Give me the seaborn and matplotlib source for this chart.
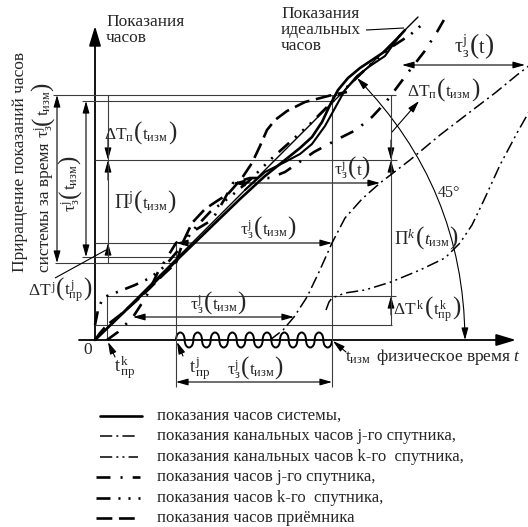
import matplotlib
matplotlib.use("Agg")
import matplotlib.pyplot as plt
from matplotlib.patches import Arc, FancyArrowPatch
import seaborn as sns

sns.set_style("white")
plt.rcParams["font.family"] = ["Liberation Serif", "DejaVu Serif"]
plt.rcParams["mathtext.fontset"] = "custom"
plt.rcParams["mathtext.rm"] = "Liberation Serif"
plt.rcParams["mathtext.it"] = "Liberation Serif:italic"
plt.rcParams["mathtext.bf"] = "Liberation Serif:bold"

# ---- key instants of physical time t and clock readings T (chart units) ----
t_pr_k, t_pr_j, t_izm, t_right = 12, 81, 237, 296
T_rcv_izm, T_sys_izm, T_pj_top = 245, 239, 180
T_sat_j_prj, T_sys_prj, T_rcv_prj = 97, 83, 77
T_k_top, T_k_base = 44, 15

# ---- clock readings versus physical time ----
ideal_t = [0, 323]
ideal_T = [0, 323]

system_t = [0, 25, 55, 85, 115, 145, 170, 190, 205, 217, 227, 235, 243, 253, 265, 277, 289, 301, 310]
system_T = [0, 24, 53, 83, 112, 141, 164, 180, 192, 203, 218, 235, 250, 262, 272, 280, 288, 300, 310]

system2_t = [150, 170, 190, 205, 217, 230, 240, 250, 262, 275, 290, 305]
system2_T = [150, 168, 178, 186, 196, 214, 232, 250, 264, 274, 284, 305]

receiver_t = [0, 5, 12, 25, 40, 55, 68, 81, 88, 97, 110, 122, 133, 147, 157, 165, 172, 180, 192, 210, 237, 252]
receiver_T = [0, 7, 15, 25, 38, 52, 65, 77, 98, 117, 131, 139, 146, 162, 177, 194, 210, 220, 229, 238, 245, 248]

sat_j_t = [12, 23, 38, 51, 63, 73, 81, 97, 117, 129, 138, 155, 175, 190, 219, 245, 261, 277, 291, 303, 315, 329, 342, 350]
sat_j_T = [0, 8, 23, 43, 68, 84, 97, 108, 120, 140, 157, 162, 162, 168, 188, 202, 210, 223, 238, 254, 270, 288, 308, 322]

sat_k_t = [0, 3, 7, 12, 25, 40, 55, 70, 85, 100, 115, 135, 155, 175, 195, 215, 235, 255, 275, 295, 315, 330]
sat_k_T = [15, 30, 40, 44, 49, 55, 62, 74, 92, 112, 128, 143, 160, 180, 198, 216, 236, 256, 275, 292, 305, 318]

chan_j_t = [175, 188, 199, 212, 224, 237, 250, 267, 285, 315, 345, 375, 400, 422, 435]
chan_j_T = [0, 10, 23, 43, 68, 97, 122, 141, 157, 180, 205, 228, 247, 265, 275]

chan_k_t = [231, 234, 237, 250, 270, 296, 325, 350, 365, 377, 389, 405, 422, 435]
chan_k_T = [30, 38, 42, 47, 50, 58, 70, 82, 97, 115, 140, 175, 207, 230]

legend_labels = [
    "показания часов системы,",
    "показания канальных часов j-го спутника,",
    "показания канальных часов k-го  спутника,",
    "показания часов j-го спутника,",
    "показания часов k-го  спутника,",
    "показания часов приёмника",
]

# ---- figure: one unit of t or T equals one pixel ----
fig = plt.figure(figsize=(5.28, 5.27), dpi=100)
ax = fig.add_axes([0, 0, 1, 1])
ax.set_xlim(-95, 433)
ax.set_ylim(-187, 340)
ax.axis("off")
renderer = fig.canvas.get_renderer()

K = "black"
GRID = "#3c3c3c"
THICK = 1.9
THIN = 1.1

DASH_RCV = (0, (6, 2.5))
DASH_SATJ = (0, (5.3, 3.8, 0.8, 3.8))
DASH_SATK = (0, (5.3, 3, 0.8, 3, 0.8, 3, 0.8, 3))
DASH_CHJ = (0, (8, 2.7, 1.3, 2.7))
DASH_CHK = (0, (8, 2.7, 1.3, 2.7, 1.3, 2.7))


def curve(t, T, lw, ls="-"):
    sns.lineplot(x=t, y=T, ax=ax, sort=False, estimator=None, color=K,
                 linewidth=lw, linestyle=ls, legend=False)


def arrow(p0, p1, style="<|-|>", lw=0.8, color=K, hl=0.6, hw=0.17):
    a = FancyArrowPatch(p0, p1, arrowstyle=f"{style},head_length={hl},head_width={hw}",
                        mutation_scale=12, color=color, lw=lw, shrinkA=0, shrinkB=0)
    ax.add_patch(a)


def line(p0, p1, lw=0.8, color=GRID):
    ax.plot([p0[0], p1[0]], [p0[1], p1[1]], color=color, lw=lw, solid_capstyle="butt")


def rich(x, y, pieces, rot=0, ha="center"):
    """Place text pieces one after another on a common baseline (x, y)."""
    texts, lens = [], []
    for s, fs in pieces:
        t = ax.text(0, 0, s, fontsize=fs, rotation=rot, rotation_mode="anchor",
                    ha="left", va="baseline")
        bb = t.get_window_extent(renderer)
        lens.append(bb.height if rot == 90 else bb.width)
        texts.append(t)
    total = sum(lens)
    pos = {"center": -total / 2, "left": 0, "right": -total}[ha]
    for t, L in zip(texts, lens):
        t.set_position((x, y + pos) if rot == 90 else (x + pos, y))
        pos += L


# construction lines
for T, t0, t1 in [(T_rcv_izm, -42, 301), (T_sys_izm, -13, t_izm), (T_pj_top, 0, 302),
                  (T_sat_j_prj, 0, t_pr_j), (T_sys_prj, -13, t_pr_j), (T_rcv_prj, -40, t_pr_j),
                  (T_k_top, 11, 301), (T_k_base, 0, 297)]:
    line((t0, T), (t1, T))
line((t_pr_j, T_sat_j_prj), (t_pr_j, -47))
line((t_izm, T_rcv_izm), (t_izm, -47))
line((t_right, T_rcv_izm), (t_right, T_k_base))
line((t_pr_k, T_k_top), (t_pr_k, 0))
line((13, T_rcv_izm), (13, T_rcv_prj))

# axes of the diagram
arrow((-16, 0), (421, 0), style="-|>", lw=1.3, hl=1.0, hw=0.3)
arrow((0, 0), (0, 314), style="-|>", lw=1.3, hl=1.0, hw=0.3)

# vertical dimension arrows
arrow((-38, T_rcv_prj), (-38, T_rcv_izm))
arrow((-9, T_sys_prj), (-9, T_sys_izm))
arrow((13, 205), (13, T_pj_top), style="-|>")
arrow((13, 160), (13, T_pj_top), style="-|>")
arrow((13, 85), (13, T_sat_j_prj), style="-|>")
arrow((t_right, 200), (t_right, T_pj_top), style="-|>")
arrow((t_right, 165), (t_right, T_pj_top), style="-|>")
arrow((t_right, 25), (t_right, T_k_top), style="-|>")

# horizontal delay arrows
arrow((38, 23), (199, 23))
arrow((t_pr_j, T_sat_j_prj), (t_izm, T_sat_j_prj))
arrow((138, 157), (285, 157))
arrow((307, 275), (430, 275))
arrow((t_pr_j, -42), (t_izm, -42))

# pointers from labels
arrow((297, 208), (324, 239), style="-|>")
line((-40, 62), (11, 90), color=K)
line((271, 310), (309, 312), color=K)
arrow((251, -12), (238, -1), style="-|>")
arrow((88, -16), (82, -2), style="-|>")
arrow((20, -17), (13, -2), style="-|>")

# 45 degree arc
arc = FancyArrowPatch((262, 262), (370, 0), connectionstyle="arc3,rad=-0.2",
                      arrowstyle="<|-|>,head_length=0.6,head_width=0.17",
                      mutation_scale=12, color=K, lw=0.8, shrinkA=0, shrinkB=0)
ax.add_patch(arc)

# signal wave between the two instants
n_half = 18
w = (t_izm - t_pr_j) / n_half
for i in range(n_half):
    c = t_pr_j + w / 2 + i * w
    th = (0, 180) if i % 2 == 0 else (180, 360)
    ax.add_patch(Arc((c, 0), w, 15, theta1=th[0], theta2=th[1], color=K, lw=1.4))

# clock curves
curve(ideal_t, ideal_T, 1.0)
curve(system_t, system_T, THICK)
curve(system2_t, system2_T, 1.5)
curve(receiver_t, receiver_T, THICK, DASH_RCV)
curve(sat_j_t, sat_j_T, THICK, DASH_SATJ)
curve(sat_k_t, sat_k_T, THICK, DASH_SATK)
curve(chan_j_t, chan_j_T, THIN, DASH_CHJ)
curve(chan_k_t, chan_k_T, THIN, DASH_CHK)

# texts
FS = 12.5
P = 18
tau = r"$\mathrm{τ}_{\mathrm{з}}^{\mathrm{j}}$"
t_izm_s = r"$\mathrm{t}_{\mathrm{изм}}$"
lab_tau_izm = [(tau, FS), ("(", P), (t_izm_s, FS), (")", P)]
lab_tau_t = [(tau, FS), ("(", P), ("t", FS), (")", P)]
lab_dTp = [(r"$\Delta\mathrm{T}_{\mathrm{п}}$", FS), ("(", P), (t_izm_s, FS), (")", P)]

ax.text(11, 310, "Показания\nчасов", fontsize=FS, ha="left", va="center", linespacing=1.0)
ax.text(186, 310, "Показания\nидеальных\nчасов", fontsize=FS, ha="left", va="center", linespacing=1.0)
ax.text(-71, 68, "Приращение показаний часов", fontsize=FS, rotation=90,
        rotation_mode="anchor", ha="left", va="baseline")
rich(-46, 68, [("системы за время ", FS)] + lab_tau_izm, rot=90, ha="left")
rich(-19, 156, lab_tau_izm, rot=90)

rich(45, 200, lab_dTp)
rich(50, 131, [(r"$\Pi^{\mathrm{j}}$", FS + 2), ("(", P), (t_izm_s, FS), (")", P)])
rich(-35, 44, [(r"$\Delta\mathrm{T}^{\,\mathrm{j}}$", FS), ("(", P),
               (r"$\mathrm{t}_{\mathrm{пр}}^{\,\mathrm{j}}$", FS), (")", P)])
rich(123, 30, lab_tau_izm)
rich(173, 105, lab_tau_izm)
rich(257, 165, lab_tau_t)
rich(379, 287, [(tau, FS + 2), ("(", P + 2), ("t", FS + 2), (")", P + 2)])
rich(348, 243, lab_dTp)
rich(299, 95, [(r"$\Pi^{k}$", FS + 1), ("(", P), (r"$t_{\mathrm{изм}}$", FS), (")", P)], ha="left")
rich(298, 25, [(r"$\Delta\mathrm{T}^{\,\mathrm{k}}$", FS), ("(", P),
               (r"$\mathrm{t}_{\mathrm{пр}}^{\,\mathrm{k}}$", FS), (")", P)], ha="left")
ax.text(343, 147, "45°", fontsize=FS - 1, ha="left", va="center")
ax.text(-7, -10, "0", fontsize=FS, ha="center", va="center")
ax.text(30, -28, r"$\mathrm{t}_{\,\mathrm{пр}}^{\,\mathrm{k}}$", fontsize=FS + 1, ha="center", va="center")
ax.text(105, -28, r"$\mathrm{t}_{\,\mathrm{пр}}^{\,\mathrm{j}}$", fontsize=FS + 1, ha="center", va="center")
rich(160, -35, lab_tau_izm)
ax.text(263, -18, t_izm_s, fontsize=FS, ha="center", va="center")
ax.text(281, -17, r"физическое время $t$", fontsize=FS, ha="left", va="center")

# legend
leg_styles = [("-", THICK, 5, 47), (DASH_CHJ, THIN, 5, 43), (DASH_CHK, THIN, 5, 43),
              (DASH_SATJ, THICK, 1, 45), (DASH_SATK, THICK, 1, 45), (DASH_RCV, THICK, 1, 45)]
for i, (lab, (ls, lw, x0, x1)) in enumerate(zip(legend_labels, leg_styles)):
    T = -76 - 20.4 * i
    ax.plot([x0, x1], [T, T], color=K, lw=lw, linestyle=ls)
    ax.text(62, T, lab, fontsize=12, ha="left", va="center")

fig.savefig("out.png", dpi=100)
